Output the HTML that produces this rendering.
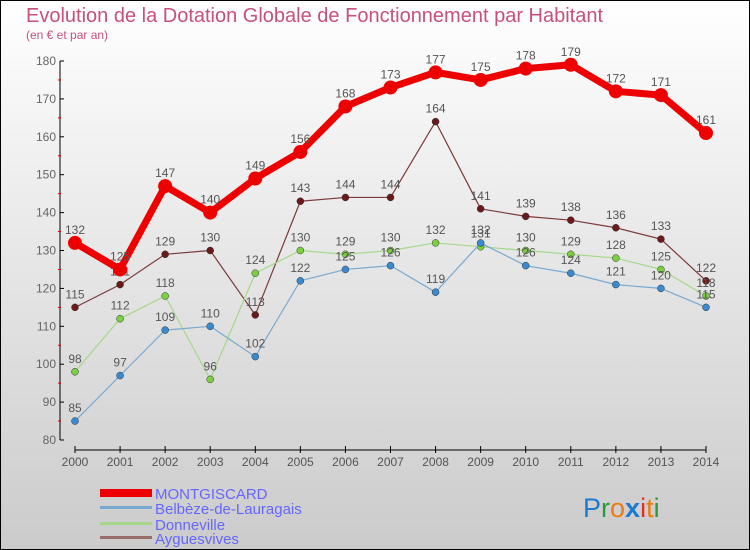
<!DOCTYPE html>
<html><head><meta charset="utf-8"><style>
body{margin:0;}
svg{display:block;font-family:"Liberation Sans",sans-serif;}
</style></head><body>
<svg id="c" width="750" height="550" viewBox="0 0 750 550">
<defs><linearGradient id="bg" x1="0" y1="0" x2="0" y2="1"><stop offset="0" stop-color="#ffffff"/><stop offset="1" stop-color="#cbcbcb"/></linearGradient></defs>
<rect x="0.5" y="0.5" width="749" height="549" fill="url(#bg)" stroke="#000"/>
<text x="26" y="22" font-size="20" fill="#c8507a">Evolution de la Dotation Globale de Fonctionnement par Habitant</text>
<text x="26" y="39" font-size="12" fill="#c8507a">(en € et par an)</text>
<g id="axes"></g><g id="series"></g>
<g>
<rect x="100" y="489" width="52" height="8" fill="#ee0000"/>
<text x="155" y="499" font-size="15" fill="#6666ff">MONTGISCARD</text>
<rect x="100" y="506" width="52" height="3" fill="#79a9d0"/>
<text x="155" y="514" font-size="15" fill="#6666ff">Belbèze-de-Lauragais</text>
<rect x="100" y="522" width="52" height="3" fill="#a5d88a"/>
<text x="155" y="530" font-size="15" fill="#6666ff">Donneville</text>
<rect x="100" y="536" width="52" height="3" fill="#9a6d6d"/>
<text x="155" y="544" font-size="15" fill="#6666ff">Ayguesvives</text>
</g>
<text x="583" y="517" font-size="27"><tspan fill="#1a7bd0">P</tspan><tspan fill="#2a9a3a">r</tspan><tspan fill="#f07a10">o</tspan><tspan fill="#1a7bd0" font-weight="bold">x</tspan><tspan fill="#e03020">i</tspan><tspan fill="#f07a10">t</tspan><tspan fill="#2a9a3a">i</tspan></text>
</svg>
<script>
const years=[2000,2001,2002,2003,2004,2005,2006,2007,2008,2009,2010,2011,2012,2013,2014];
const montgiscard=[132,125,147,140,149,156,168,173,177,175,178,179,172,171,161];
const belbeze=[85,97,109,110,102,122,125,126,119,132,126,124,121,120,115];
const donneville=[98,112,118,96,124,130,129,130,132,131,130,129,128,125,118];
const ayguesvives=[115,121,129,130,113,143,144,144,164,141,139,138,136,133,122];
const yTicks=[80,90,100,110,120,130,140,150,160,170,180];
const NS='http://www.w3.org/2000/svg';
function xs(i){return 75+i*(706-75)/14;}
function ys(v){return 440-(v-80)*(440-61)/100;}
function mk(tag,attrs,parent,txt){const e=document.createElementNS(NS,tag);for(const k in attrs)e.setAttribute(k,attrs[k]);if(txt!==undefined)e.textContent=txt;parent.appendChild(e);return e;}
const ax=document.getElementById('axes');
let e=mk('line',{x1:60,y1:61,x2:60,y2:440,stroke:'#000','stroke-width':1},ax);


yTicks.forEach(t=>{
 mk('line',{x1:60,y1:ys(t),x2:64,y2:ys(t),stroke:'#000'},ax);
 if(t<180)mk('line',{x1:58,y1:ys(t+5),x2:61,y2:ys(t+5),stroke:'#d00'},ax);
 const l=mk('text',{x:56,y:ys(t)+4,'font-size':12,fill:'#666','text-anchor':'end'},ax,t);
 
 
});
e=mk('line',{x1:75,y1:450,x2:706,y2:450,stroke:'#000','stroke-width':1},ax);


years.forEach((y,i)=>{
 mk('line',{x1:xs(i),y1:446,x2:xs(i),y2:453,stroke:'#000'},ax);
 const l=mk('text',{x:xs(i),y:466,'font-size':12,fill:'#555','text-anchor':'middle'},ax,y);
 
 
});
const sg=document.getElementById('series');
const series=[
 {name:'ayguesvives',d:ayguesvives,c:'#7a3a3a',dot:'#6a1a1a',w:1.2,r:3.5},
 {name:'donneville',d:donneville,c:'#a5d88a',dot:'#7ad040',w:1.2,r:3.5},
 {name:'belbeze',d:belbeze,c:'#79a9d0',dot:'#3a8ad0',w:1.2,r:3.5},
 {name:'montgiscard',d:montgiscard,c:'#ee0000',dot:'#ee0000',w:7,r:7}
];
series.forEach(s=>{
 const g=mk('g',{},sg);
 
 
 const p=mk('polyline',{points:s.d.map((v,i)=>xs(i)+','+ys(v)).join(' '),fill:'none',stroke:s.c,'stroke-width':s.w,'stroke-linejoin':'round'},g);
 
 
 s.d.forEach((v,i)=>{
  const c=mk('circle',{cx:xs(i),cy:ys(v),r:s.r,fill:s.dot,stroke:s.name==='montgiscard'?'none':'#333','stroke-width':0.5},g);
  
  
  const t=mk('text',{x:xs(i),y:ys(v)-9,'font-size':12,fill:'#555','text-anchor':'middle'},g,v);
  
  
 });
});
</script>
</body></html>
